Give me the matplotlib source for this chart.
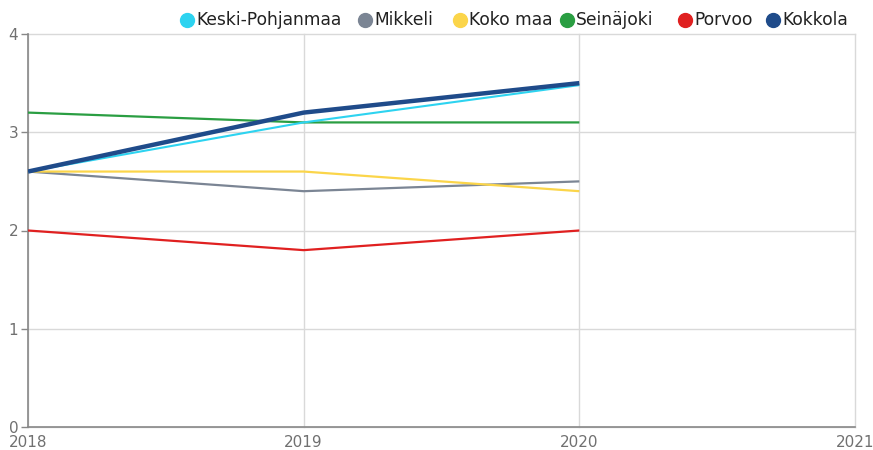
import matplotlib
matplotlib.use("Agg")
import matplotlib.pyplot as plt

years = [2018, 2019, 2020]
series_names = ["Keski-Pohjanmaa", "Mikkeli", "Koko maa", "Seinäjoki", "Porvoo", "Kokkola"]
keski_pohjanmaa = [2.6, 3.1, 3.48]
mikkeli = [2.6, 2.4, 2.5]
koko_maa = [2.6, 2.6, 2.4]
seinajoki = [3.2, 3.1, 3.1]
porvoo = [2.0, 1.8, 2.0]
kokkola = [2.6, 3.2, 3.5]
x_ticks = [2018, 2019, 2020, 2021]
y_ticks = [0, 1, 2, 3, 4]

values = [keski_pohjanmaa, mikkeli, koko_maa, seinajoki, porvoo, kokkola]
colors = ["#2dd3f0", "#7b8594", "#fbd54a", "#2a9e42", "#e02020", "#1f4b8a"]
widths = [1.5, 1.6, 1.6, 1.6, 1.6, 3.2]

plt.rcParams['font.family'] = ['DejaVu Sans']
fig = plt.figure(figsize=(8.73, 4.5), dpi=100)
ax = fig.add_axes([28/873, 1-427/450, (855-28)/873, (427-34)/450])

order = [1, 2, 3, 4, 0, 5]
for i in order:
    ax.plot(years, values[i], color=colors[i], lw=widths[i], solid_capstyle='butt', zorder=3 + (i == 5))

ax.set_xlim(2018, 2021)
ax.set_ylim(0, 4)
ax.set_xticks(x_ticks)
ax.set_yticks(y_ticks)
ax.set_xticklabels([str(t) for t in x_ticks], fontsize=11)
ax.set_yticklabels([str(t) for t in y_ticks], fontsize=11)
ax.grid(True, color="#d9d9d9", lw=1)
for gl in ax.get_xgridlines() + ax.get_ygridlines():
    gl.set_clip_on(False)
ax.set_axisbelow(True)
for s in ["top", "right"]:
    ax.spines[s].set_visible(False)
for s in ["left", "bottom"]:
    ax.spines[s].set_color("#888888")
    ax.spines[s].set_linewidth(1.2)
ax.tick_params(axis='y', length=5, width=1, color="#888888", labelcolor="#707070", pad=2)
ax.tick_params(axis='x', length=0, labelcolor="#707070", pad=6)

# legend (manual layout)
leg_x = [187, 365, 460, 567, 685, 773]
leg_y = 20
for name, c, lx in zip(series_names, colors, leg_x):
    fig.lines.append(plt.Line2D([lx/873], [1-leg_y/450], marker='o', markersize=10, color=c,
                                transform=fig.transFigure, figure=fig))
    fig.text((lx+9)/873, 1-leg_y/450, name, fontsize=12.3, color="#222222", va='center', ha='left')

fig.savefig("out.png", dpi=100)
